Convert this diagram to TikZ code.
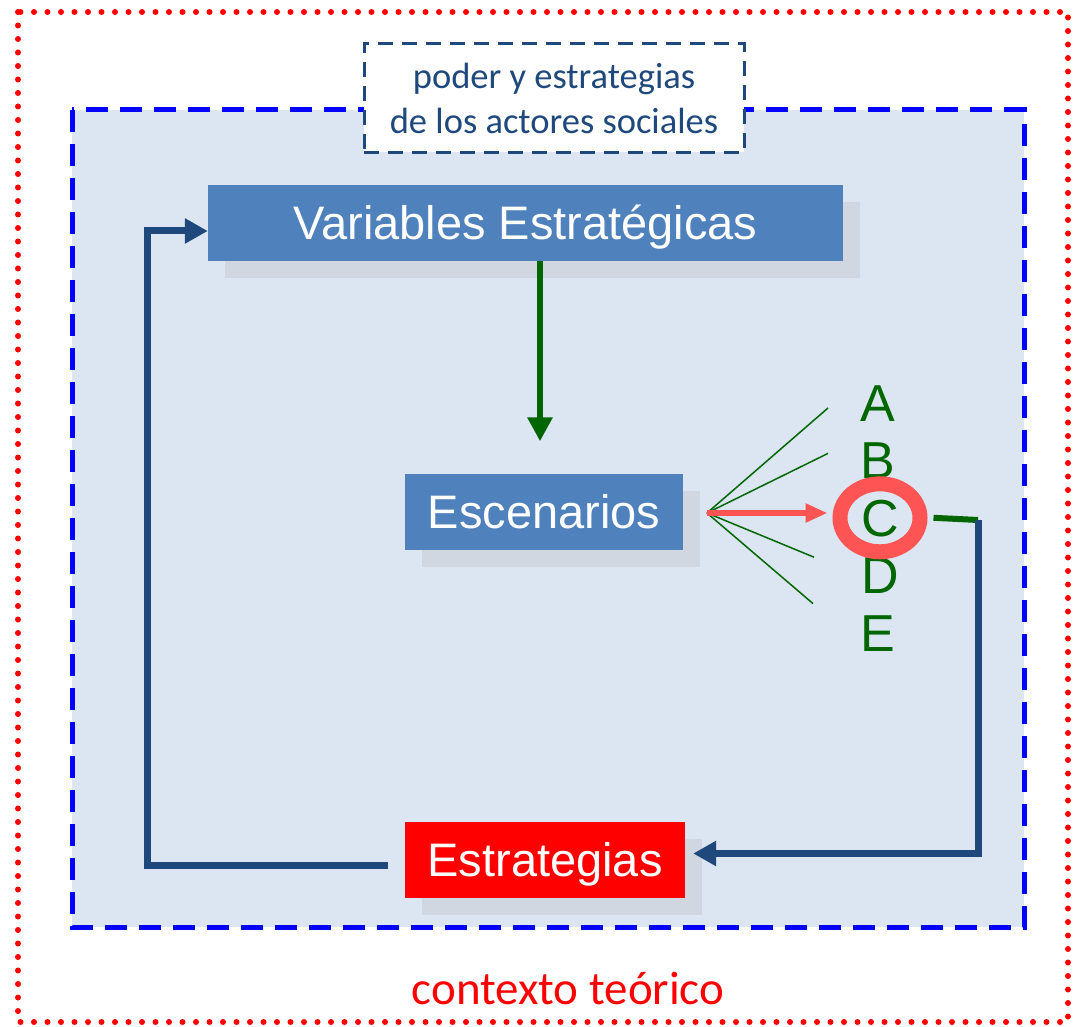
\documentclass[tikz,border=0pt]{standalone}
\usepackage{fontspec}
\setmainfont{Liberation Sans}
\newfontfamily\calibfont{Carlito}
\usetikzlibrary{positioning,arrows.meta,calc,shadows,shapes.geometric}

\definecolor{boxblue}{HTML}{4F81BD}
\definecolor{navy}{HTML}{1F497D}
\definecolor{leafgreen}{HTML}{006600}
\definecolor{ringred}{HTML}{FF5454}
\definecolor{framefill}{HTML}{DCE6F2}
\definecolor{shadowgray}{HTML}{D1D7E0}

\begin{document}
\begin{tikzpicture}[x=1pt,y=-1pt,node distance=20pt,
  box/.style={fill=boxblue,text=white,inner sep=0pt,minimum height=76pt,
    text height=34pt,text depth=0pt,font=\fontsize{47}{56}\selectfont,
    drop shadow={shadow xshift=17pt,shadow yshift=-17pt,fill=shadowgray,opacity=1}},
  letter/.style={text=leafgreen,inner sep=0pt,text height=37pt,text depth=0pt,
    font=\fontsize{52}{60}\selectfont},
  loopline/.style={navy,line width=7pt,-{Triangle[length=23pt,width=24pt]}},
  fanline/.style={leafgreen,line width=1.5pt}]

\useasboundingbox (0,0) rectangle (1077,1027);

% contexto
\draw[red,line width=6pt,line cap=round,dash pattern=on 0pt off 13.5pt] (18,12) rectangle (1068,1022);
\node[text=red,font=\calibfont\fontsize{47}{56}\selectfont] (ctx) at (568,988) {contexto teórico};

% marco de los actores
\draw[blue,fill=framefill,line width=5pt,dash pattern=on 22pt off 12pt] (72,110) rectangle (1024,927);
\node[draw=navy,fill=white,line width=3pt,dash pattern=on 15pt off 9pt,text=navy,align=center,
  minimum width=380pt,minimum height=109pt,font=\calibfont\fontsize{36.5}{45}\selectfont] (act) at (554,98)
  {poder y estrategias\\de los actores sociales};

    \node[box,minimum width=635pt] (var) at (525.5,223) {Variables Estratégicas};
    \node[box,minimum width=278pt] (esc) at (544,511.5) {Escenarios};
    \node[box,minimum width=280pt,fill=red] (estr) at (545,859.5) {Estrategias};

    \node[letter] (A) at (878,403) {A};
    \node[letter] (B) [below=of A] {B};
    \node[letter] (C) [below=of B, xshift=2pt] {C};
    \node[letter] (D) [below=of C] {D};
    \node[letter] (E) [below=of D, xshift=-2pt] {E};

    \node[draw=ringred,line width=15pt,ellipse,inner sep=0pt,minimum width=80pt,minimum height=68pt] (ring) at (C) {};

    \coordinate (fan) at (707,513);
    \coordinate (turn) at (978,520);

% flechas
    \draw[leafgreen,line width=6pt,-{Triangle[length=24pt,width=24pt]}] ($(var.south)+(14.5,0)$) -- ($(esc.north)+(-4,-32)$);

    \draw[fanline] (fan) -- ($(A)+(-50,5)$);
    \draw[fanline] (fan) -- ($(B)+(-50,-7)$);
    \draw[fanline] (fan) -- ($(D)+(-66,-18)$);
    \draw[fanline] (fan) -- ($(E)+(-65,-29)$);
    \draw[ringred,line width=6pt,-{Triangle[length=22pt,width=18pt]},shorten >=5pt] (fan) -- (fan -| ring.west);

    \draw[leafgreen,line width=6pt] ($(ring.east)+(6,0)$) -- (turn);
    \draw[loopline] (turn) |- ($(estr.east)+(8,-6)$);
    \draw[loopline] ($(estr.west)+(-17,6)$) -| ($(var.west)+(-60,8)$) -- ($(var.west)+(0,8)$);

\end{tikzpicture}
\end{document}
